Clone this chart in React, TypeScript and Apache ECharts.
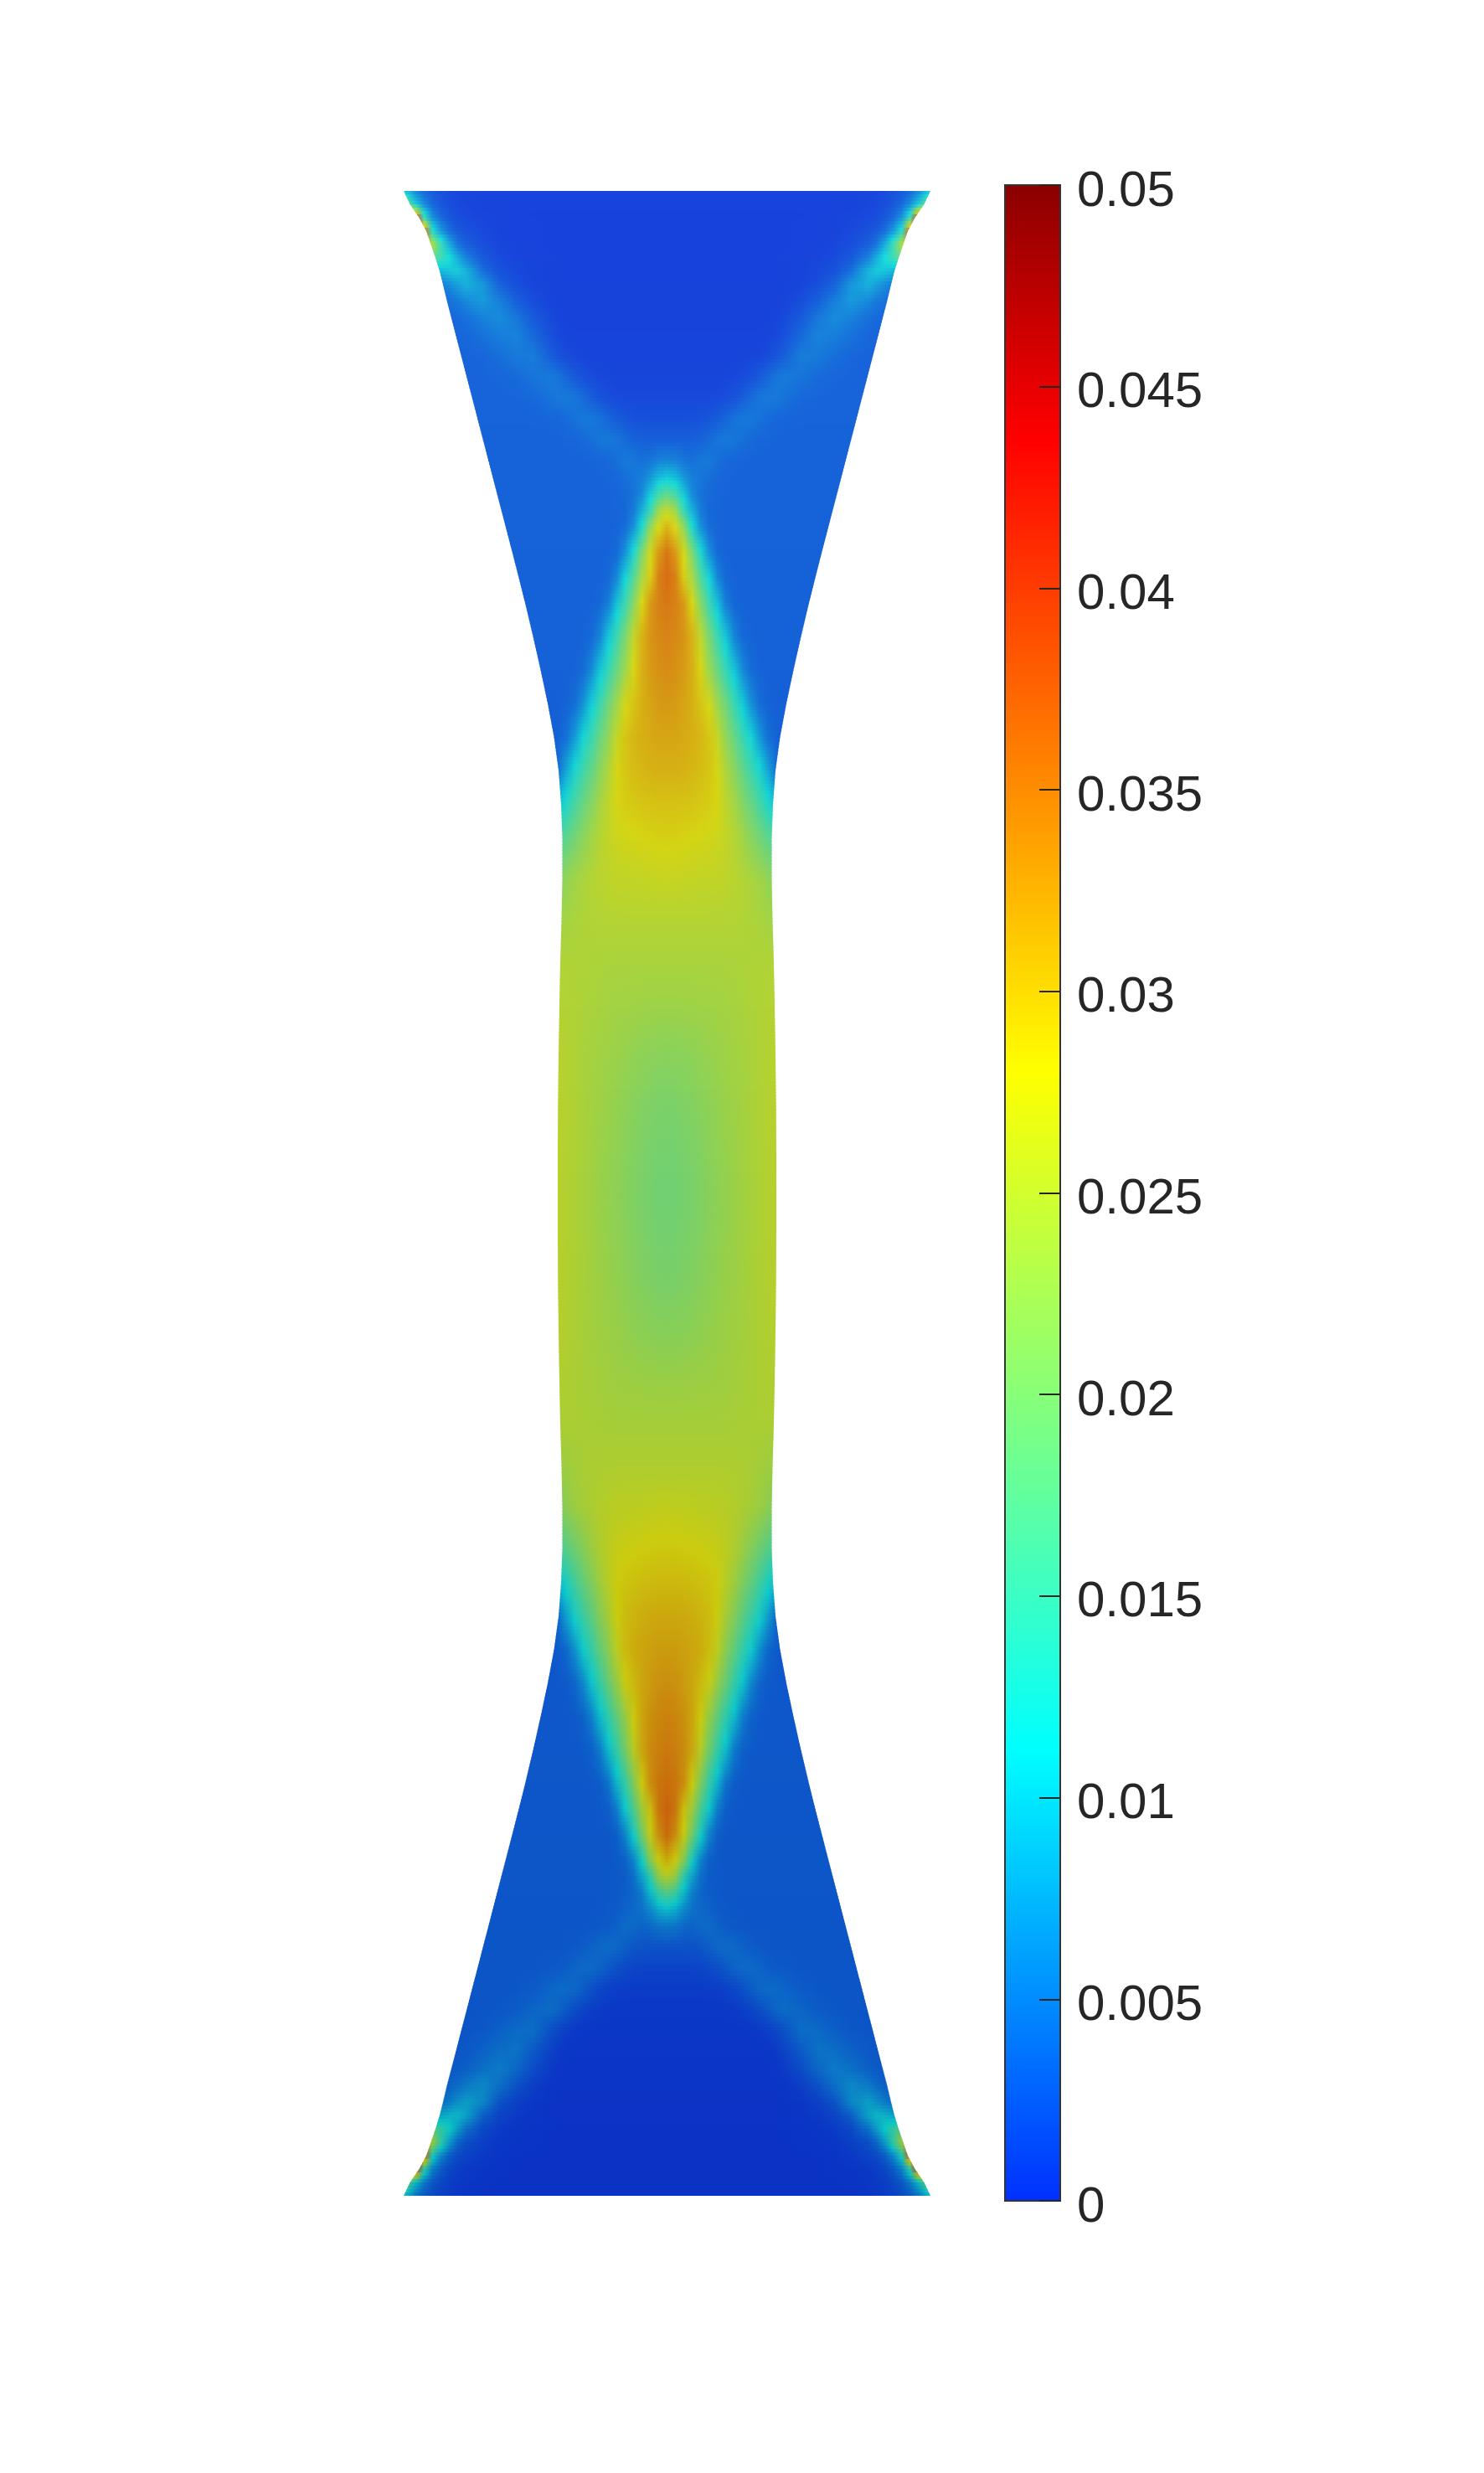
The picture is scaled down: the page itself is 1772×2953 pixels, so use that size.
import React, { useEffect, useRef } from "react";
import * as echarts from "echarts";

// Offset from the specimen's centre line, at which the field was read
const columnOffsets = [0,10,20,30,40,50,60,70,80,90,100,110,120,130,140,160,180,200,220,240,250,260,270,280,290,300,310,320];

// Stations along the specimen from its top edge to mid-height (it is mirrored about mid-height)
const stations = [0,16,32,48,64,80,96,112,132,152,172,197,222,247,272,297,322,342,362,382,402,432,462,492,532,572,612,652,692,732,772,822,872,922,972,1032,1092,1152,1197];
const halfWidths = [314.5,307,296,287.5,282,276.5,271.5,267.5,262.7,257.5,252.3,245.8,239.3,232.8,226.3,219.8,213.3,208.1,202.9,197.7,192.5,184.7,177,169.5,160,151,142.5,135,129.5,126.5,125,125,126,127.5,128.5,129.5,130.2,130.5,130.5];

// Field values (in units of 0.001) at each station; a short row keeps its last value outwards
const fieldRows: number[][] = [
  [.4,.4,.4,.4,.4,.4,.4,.4,.4,.4,.4,.4,.4,.4,.4,.4,.4,.4,.45,.5,.7,1,1.4,2,3,5,8.5,13],
  [.4,.4,.4,.4,.4,.4,.4,.4,.4,.4,.4,.4,.4,.4,.4,.4,.4,.45,.5,.7,.9,1.2,1.9,3,5.5,10,18,28],
  [.4,.4,.4,.4,.4,.4,.4,.4,.4,.4,.4,.4,.4,.4,.4,.4,.45,.5,.6,.9,1.2,1.9,3.2,6,14,42,45,45],
  [.4,.4,.4,.4,.4,.4,.4,.4,.4,.4,.4,.4,.4,.4,.4,.45,.45,.5,.9,1.5,2.1,3.5,6.5,12.5,38,45,45,45],
  [.4,.4,.4,.4,.4,.4,.4,.4,.4,.4,.4,.4,.4,.4,.4,.45,.5,.7,1.3,2.4,4,8,14.5,24,30,30,30,30],
  [.4,.4,.4,.4,.4,.4,.4,.4,.4,.4,.4,.4,.4,.4,.45,.5,.6,1,2,4.8,8,11.5,14.5,18,18,18,18,18],
  [.4,.4,.4,.4,.4,.4,.4,.4,.4,.4,.4,.4,.4,.4,.45,.55,.9,1.6,3.6,8.5,10,9.6,8.5,7,6,6,6,6],
  [.45,.45,.45,.45,.45,.45,.45,.45,.45,.45,.45,.45,.45,.45,.5,.7,1.3,2.7,6.5,8.2,7,5.5,4.5,4,4,4,4,4],
  [.5,.5,.5,.5,.5,.5,.5,.5,.5,.5,.5,.5,.5,.5,.55,1.2,2.6,4.8,6.6,5.4,4.3,3.7,3.4,3.4],
  [.5,.5,.5,.5,.5,.5,.5,.5,.5,.5,.5,.5,.5,.6,1,2.2,4.2,5.6,4.8,3.6,3.2,3],
  [.55,.55,.55,.55,.55,.55,.55,.55,.55,.55,.55,.55,.6,.9,1.5,3.1,5,4.7,3.8,3.1,3],
  [.6,.6,.6,.6,.6,.6,.6,.6,.6,.6,.7,.8,1.1,1.7,2.5,4.6,4.4,3.6,3,2.8],
  [.7,.7,.7,.7,.7,.7,.7,.8,.9,1.1,1.5,2.1,3,4,4.5,4,3.3,3,2.8],
  [.95,.95,.95,.95,.95,.95,1.05,1.3,1.7,2.4,3.3,4.1,4.4,4.3,3.9,3.2,2.9,2.8],
  [1.5,1.5,1.5,1.5,1.6,1.9,2.3,3,3.8,4.3,4.3,3.9,3.4,3.1,3,2.8],
  [2.5,2.5,2.5,2.6,2.8,3.4,4.1,4.4,4.2,3.7,3.3,3,2.9,2.8],
  [5.2,5,4.2,3.8,4.3,4.4,3.7,3.2,3,2.9,2.8],
  [10,9,6.5,4.8,4.2,3.7,3.2,3,2.9,2.8],
  [17.5,15,10,5.6,4,3.3,3,2.9,2.8],
  [26,23,14,8.5,4.6,3.2,3,2.9,2.8],
  [31,28,22,12,6.3,3.6,3,2.8],
  [36,33,27.5,20,12,6.2,3.4,2.9,2.8],
  [36.6,35,29,24,16.5,11,5.6,3.3,2.9,2.8],
  [35.7,35,33,28,21,14.5,9.5,4.8,3.2,2.9,2.8],
  [34.7,34.3,33.3,31,26,20,14.5,10,5.4,3.4,3,2.8],
  [34,33.7,32.8,31.2,28.2,23,18.5,14,10,5.8,3.6,3,2.8],
  [33,32.8,32,31,29.5,27.7,23,19,14.5,10.5,6.3,3.8,3,2.8,2.7],
  [32,31.9,31.6,31.2,30.6,29.4,26.5,22,18.5,14.5,11.2,7,4,3,2.7],
  [31,31,30.8,30.5,30,29.3,28,24.5,21.5,18,15,12,8,4,3],
  [29.6,29.6,29.5,29.3,29,28.7,28,26,23.8,21,18.5,15.7,12.5,10],
  [28.5,28.4,28.2,28,27.8,27.6,27.3,26.4,25.2,23.5,21.5,19.5,17.5,15.5],
  [26.8,26.7,26.6,26.5,26.4,26.3,26.2,26,25.6,25,24.3,23.5,22.3,21],
  [25.2,25.2,25.2,25.2,25.2,25.2,25.2,25.1,25,24.9,24.7,24.3,23.8,23.5],
  [24.3,24.3,24.3,24.3,24.3,24.3,24.3,24.4,24.5,24.6,24.7,24.8,24.8,25],
  [23.2,23.2,23.3,23.4,23.5,23.6,23.7,23.9,24.1,24.4,24.6,24.8,25,25.3],
  [21.5,21.6,21.8,22,22.3,22.7,23,23.4,23.7,24,24.4,24.8,25.2,25.6],
  [20.3,20.4,20.7,21,21.5,22,22.5,23,23.4,23.9,24.4,24.9,25.3,25.7],
  [19.7,19.8,20.1,20.5,21,21.6,22.2,22.7,23.2,23.8,24.3,24.8,25.3,25.7],
  [19.4,19.5,19.8,20.3,20.8,21.4,22,22.6,23.1,23.7,24.2,24.8,25.3,25.7],
];

// Colour scale: value (0.001) -> colour, as in the colour bar
const scaleValues = [0,11.2,19.5,28,35.8,43.7,50];
const scaleColors = ["#0030ff","#00ffff","#80ff80","#ffff00","#ff8000","#ff0000","#8b0000"];
const colorbarTicks = [0,0.005,0.01,0.015,0.02,0.025,0.03,0.035,0.04,0.045,0.05];

const TOTAL = stations[stations.length - 1] * 2;
const allStations = [...stations, ...stations.slice(0, -1).reverse().map((s) => TOTAL - s)];
const allHalf = [...halfWidths, ...halfWidths.slice(0, -1).reverse()];
const allRows = [...fieldRows, ...fieldRows.slice(0, -1).reverse()];
const rowAt = (r: number[], j: number) => (j < r.length ? r[j] : r[r.length - 1]);

const rgb = (hex: string) => [1, 3, 5].map((i) => parseInt(hex.slice(i, i + 2), 16));
const scaleRgb = scaleColors.map(rgb);
function valueRgb(v: number) {
  let i = 0;
  while (i < scaleValues.length - 2 && v > scaleValues[i + 1]) i++;
  const t = Math.min(1, Math.max(0, (v - scaleValues[i]) / (scaleValues[i + 1] - scaleValues[i])));
  return scaleRgb[i].map((c, k) => c + (scaleRgb[i + 1][k] - c) * t);
}
// The surface is lit: a little ambient and a dimmer scale, falling off towards the bottom
function litColor(v: number, pos: number) {
  const f = pos / TOTAL;
  const a = 24 - 14 * f;
  const k = 0.77 - 0.04 * f;
  const c = valueRgb(v).map((x) => Math.round(a + k * x));
  return `rgb(${c[0]},${c[1]},${c[2]})`;
}

const STEP = 4;
function renderStrip(_p: any, api: any) {
  const i = api.value(0);
  const s0 = allStations[i], s1 = allStations[i + 1];
  const n = Math.max(1, Math.round((s1 - s0) / STEP));
  const children: any[] = [];
  for (let u = 0; u < n; u++) {
    // Whole-pixel strip boundaries, each strip running 1px under the next, so no seams show
    const y0 = Math.round(s0 + ((s1 - s0) * u) / n);
    const y1 = Math.round(s0 + ((s1 - s0) * (u + 1)) / n);
    const t0 = (y0 - s0) / (s1 - s0), t1 = (y1 - s0) / (s1 - s0), tm = (t0 + t1) / 2;
    const ym = (y0 + y1) / 2;
    const h0 = allHalf[i] + (allHalf[i + 1] - allHalf[i]) * t0;
    const h1 = allHalf[i] + (allHalf[i + 1] - allHalf[i]) * t1;
    const hMax = Math.max(h0, h1);
    let last = columnOffsets.findIndex((c) => c >= hMax);
    if (last < 0) last = columnOffsets.length - 1;
    const xL = api.coord([-columnOffsets[last], ym])[0];
    const xR = api.coord([columnOffsets[last], ym])[0];
    const valueAt = (j: number) => rowAt(allRows[i], j) + (rowAt(allRows[i + 1], j) - rowAt(allRows[i], j)) * tm;
    const stops: any[] = [];
    const span = 2 * columnOffsets[last];
    for (let j = last; j >= 0; j--) stops.push({ offset: (columnOffsets[last] - columnOffsets[j]) / span, color: litColor(valueAt(j), ym) });
    for (let j = 1; j <= last; j++) stops.push({ offset: (columnOffsets[last] + columnOffsets[j]) / span, color: litColor(valueAt(j), ym) });
    const overlap = y1 >= TOTAL ? 0 : 1;
    const hB = overlap ? h1 + ((h1 - h0) / (y1 - y0)) * overlap : h1;
    const pts = [[-h0, y0], [h0, y0], [hB, y1 + overlap], [-hB, y1 + overlap]].map((p) => api.coord(p));
    children.push({
      type: "polygon",
      shape: { points: pts },
      style: { fill: { type: "linear", x: xL, y: 0, x2: xR, y2: 0, global: true, colorStops: stops } },
    });
  }
  return { type: "group", children };
}

function renderBar(_p: any, api: any) {
  const a = api.coord([0, 0.05]);
  const b = api.coord([1, 0]);
  const stops = scaleValues.map((v, i) => ({ offset: 1 - v / 50, color: scaleColors[i] })).reverse();
  return {
    type: "rect",
    shape: { x: a[0], y: a[1], width: b[0] - a[0], height: b[1] - a[1] },
    style: { fill: { type: "linear", x: 0, y: 0, x2: 0, y2: 1, colorStops: stops }, stroke: "#333333", lineWidth: 2 },
  };
}

export default function App() {
  const ref = useRef<HTMLDivElement>(null);
  useEffect(() => {
    const chart = echarts.init(ref.current!, undefined, { renderer: "svg" });
    chart.setOption({
      animation: false,
      backgroundColor: "#ffffff",
      grid: [
        { left: 476.5, top: 228, width: 640, height: TOTAL },
        { left: 1200, top: 221, width: 66, height: 2407 },
        { left: 1200, top: 225, width: 66, height: 2407 },
      ],
      xAxis: [
        { gridIndex: 0, type: "value", min: -320, max: 320, show: false },
        { gridIndex: 1, type: "value", min: 0, max: 1, show: false },
        { gridIndex: 2, type: "value", min: 0, max: 1, show: false },
      ],
      yAxis: [
        { gridIndex: 0, type: "value", min: 0, max: TOTAL, inverse: true, show: false },
        {
          gridIndex: 1,
          type: "value",
          position: "right",
          min: 0,
          max: 0.05,
          interval: 0.005,
          z: 6,
          splitLine: { show: false },
          axisLine: { show: false, onZero: false },
          axisTick: { show: true, inside: true, length: 25, lineStyle: { color: "#262626", width: 2 } },
          axisLabel: { show: false },
        },
        {
          // Same scale, set 4px lower: it carries the tick labels, which sit just below their ticks
          gridIndex: 2,
          type: "value",
          position: "right",
          min: 0,
          max: 0.05,
          interval: 0.005,
          splitLine: { show: false },
          axisLine: { show: false, onZero: false },
          axisTick: { show: false },
          axisLabel: {
            show: true,
            margin: 20,
            fontFamily: "Liberation Sans",
            fontSize: 60,
            color: "#262626",
            showMinLabel: true,
            showMaxLabel: true,
            formatter: (v: number) => String(colorbarTicks[Math.round(v / 0.005)]),
          },
        },
      ],
      series: [
        {
          type: "custom",
          xAxisIndex: 0,
          yAxisIndex: 0,
          silent: true,
          clip: false,
          renderItem: renderStrip,
          data: allStations.slice(0, -1).map((_, i) => [i]),
        },
        {
          type: "custom",
          xAxisIndex: 1,
          yAxisIndex: 1,
          silent: true,
          clip: false,
          renderItem: renderBar,
          data: [[0]],
        },
      ],
    });
    return () => chart.dispose();
  }, []);
  return <div ref={ref} style={{ position: "absolute", left: 0, top: 0, width: 1772, height: 2953 }} />;
}
